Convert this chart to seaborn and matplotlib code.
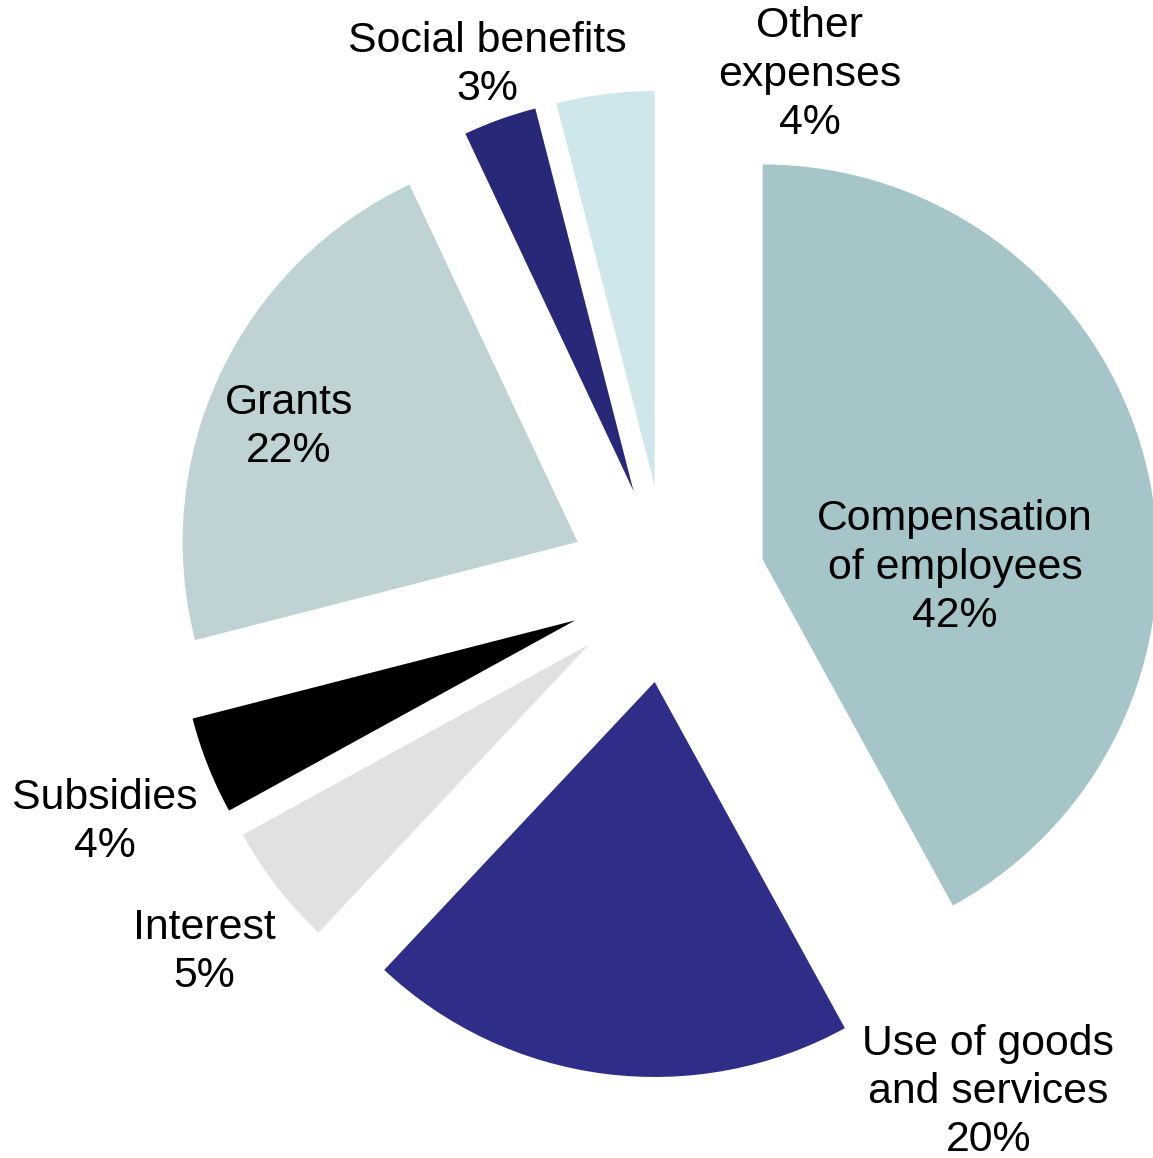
import matplotlib
matplotlib.use("Agg")
import matplotlib.pyplot as plt
import seaborn as sns

# Expenditure shares by economic classification (percent)
categories = [
    "Compensation\nof employees",
    "Use of goods\nand services",
    "Interest",
    "Subsidies",
    "Grants",
    "Social benefits",
    "Other\nexpenses",
]
shares = [42, 20, 5, 4, 22, 3, 4]
colors = ["#A5C5C8", "#2E2D87", "#E1E1E1", "#000000", "#BFD3D5", "#282878", "#CFE7EA"]

# Label anchor positions (pie radius = 1, pie centre at origin)
label_pos = [
    (0.729, 0.041),
    (0.813, -1.286),
    (-1.172, -0.932),
    (-1.423, -0.603),
    (-0.957, 0.397),
    (-0.456, 1.314),
    (0.362, 1.289),
]

sns.set_theme(style="white")
plt.rcParams["font.family"] = ["Liberation Sans", "DejaVu Sans"]

fig = plt.figure(figsize=(11.53, 11.58), dpi=100)
ax = fig.add_axes([0, 0, 1, 1])

ax.pie(
    shares,
    colors=colors,
    explode=[0.25] * len(shares),
    startangle=90,
    counterclock=False,
    radius=1.0,
    wedgeprops=dict(linewidth=0),
)

for name, val, (x, y) in zip(categories, shares, label_pos):
    ax.text(x, y, f"{name}\n{val}%", ha="center", va="center",
            fontsize=30.8, color="black", linespacing=1.27)

ax.set_xlim(-667 / 395, (1153 - 667) / 395)
ax.set_ylim(-(1158 - 584) / 395, 584 / 395)
ax.set_aspect("equal", adjustable="box")
ax.axis("off")

fig.savefig("out.png", dpi=100, facecolor="white")
